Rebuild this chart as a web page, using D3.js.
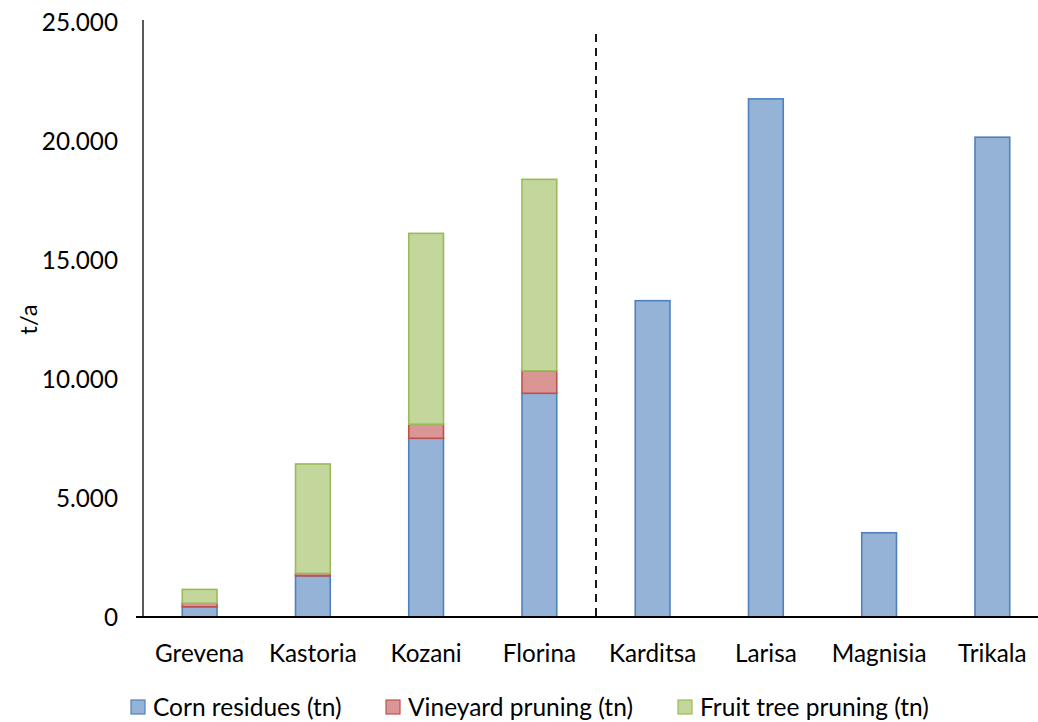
<!DOCTYPE html>
<html>
<head>
<meta charset="utf-8">
<script src="https://cdn.jsdelivr.net/npm/d3@7"></script>
<style>
  html, body { margin: 0; padding: 0; background: #fff; }
  svg text { font-family: Lato, "Open Sans", sans-serif; fill: #000; }
</style>
</head>
<body>
<svg id="chart" width="1038" height="722"></svg>
<script>
// Agricultural residue potential per regional unit (t/a)
const regions = ["Grevena", "Kastoria", "Kozani", "Florina", "Karditsa", "Larisa", "Magnisia", "Trikala"];
const cornResidues    = [430, 1730, 7510, 9400, 13290, 21770, 3540, 20160];
const vineyardPruning = [150, 100, 590, 940, 0, 0, 0, 0];
const fruitTreePruning = [580, 4600, 8020, 8050, 0, 0, 0, 0];
const seriesNames = ["Corn residues (tn)", "Vineyard pruning (tn)", "Fruit tree pruning (tn)"];
const yTicks = [0, 5000, 10000, 15000, 20000, 25000];

const fills   = ["#95B3D7", "#D99694", "#C3D69B"];
const strokes = ["#4F81BD", "#C0504D", "#9BBB59"];

const svg = d3.select("#chart");
const plotLeft = 143, plotTop = 22, plotBottom = 617, bandRight = 1049;

const x = d3.scaleBand()
  .domain(regions)
  .range([plotLeft, bandRight])
  .paddingInner(0.68)
  .paddingOuter(0.34);

const y = d3.scaleLinear().domain([0, 25000]).range([plotBottom, plotTop]);

// stacked layout
const table = regions.map((r, i) => ({
  region: r,
  corn: cornResidues[i],
  vine: vineyardPruning[i],
  fruit: fruitTreePruning[i]
}));
const stack = d3.stack().keys(["corn", "vine", "fruit"]);
const layers = stack(table);

const g = svg.append("g");
layers.forEach((layer, k) => {
  g.append("g")
    .selectAll("rect")
    .data(layer.filter(d => d[1] - d[0] > 0))
    .join("rect")
    .attr("x", d => x(d.data.region) + 0.75)
    .attr("width", x.bandwidth() - 1.5)
    .attr("y", d => y(d[1]))
    .attr("height", d => y(d[0]) - y(d[1]))
    .attr("fill", fills[k])
    .attr("stroke", strokes[k])
    .attr("stroke-width", 1.6);
});

// separator between the two groups of regions
const sepX = (x("Florina") + x.bandwidth() / 2 + x("Karditsa") + x.bandwidth() / 2) / 2;
svg.append("line")
  .attr("x1", sepX).attr("x2", sepX)
  .attr("y1", 34).attr("y2", plotBottom)
  .attr("stroke", "#000")
  .attr("stroke-width", 1.8)
  .attr("stroke-dasharray", "8,6");

// y axis
svg.append("line")
  .attr("x1", plotLeft).attr("x2", plotLeft)
  .attr("y1", y(25000) - 2).attr("y2", plotBottom)
  .attr("stroke", "#000").attr("stroke-width", 1.3);

const fmt = v => v === 0 ? "0" : d3.format(",")(v).replace(/,/g, ".");
svg.append("g")
  .selectAll("text")
  .data(yTicks)
  .join("text")
  .attr("x", 118)
  .attr("y", d => y(d))
  .attr("dy", "0.35em")
  .attr("text-anchor", "end")
  .attr("font-size", 24.3)
  .text(fmt);

svg.append("text")
  .attr("transform", `translate(37, ${(plotTop + plotBottom) / 2}) rotate(-90)`)
  .attr("text-anchor", "middle")
  .attr("font-size", 24)
  .text("t/a");

// x axis
svg.append("line")
  .attr("x1", plotLeft - 7).attr("x2", 1038)
  .attr("y1", plotBottom).attr("y2", plotBottom)
  .attr("stroke", "#000").attr("stroke-width", 1.8);

svg.append("g")
  .selectAll("text")
  .data(regions)
  .join("text")
  .attr("x", d => x(d) + x.bandwidth() / 2)
  .attr("y", 653)
  .attr("dy", "0.35em")
  .attr("text-anchor", "middle")
  .attr("font-size", 24.3)
  .text(d => d);

// legend
const legendX = [131, 386, 678];
const lg = svg.append("g");
seriesNames.forEach((name, k) => {
  lg.append("rect")
    .attr("x", legendX[k]).attr("y", 700)
    .attr("width", 14).attr("height", 14)
    .attr("fill", fills[k]).attr("stroke", strokes[k]).attr("stroke-width", 1.2);
  lg.append("text")
    .attr("x", legendX[k] + 22).attr("y", 707)
    .attr("dy", "0.35em")
    .attr("font-size", 24.5)
    .text(name);
});
</script>
</body>
</html>
